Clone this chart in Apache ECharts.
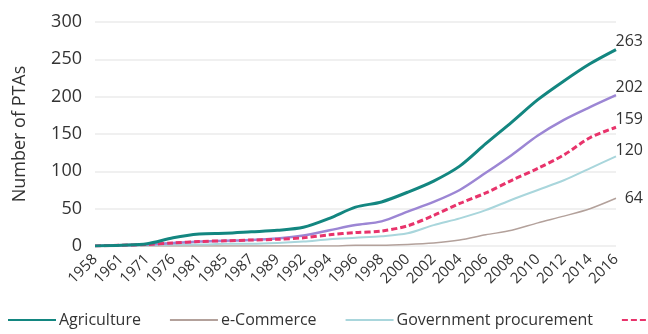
<!DOCTYPE html>
<html>
<head>
<meta charset="utf-8">
<script src="https://cdn.jsdelivr.net/npm/echarts@6/dist/echarts.min.js"></script>
<style>html,body{margin:0;padding:0;background:#fff;}#c{width:648px;height:334px;}</style>
</head>
<body>
<div id="c"></div>
<script>
const years = ['1958','1961','1971','1976','1981','1985','1987','1989','1992','1994','1996','1998','2000','2002','2004','2006','2008','2010','2012','2014','2016'];
const agriculture = [0, 1, 3, 11, 16, 17, 19, 21, 25, 37, 52, 59, 72, 87, 107, 137, 166, 196, 221, 244, 263];
const services = [0, 1, 2, 4, 6, 7, 8, 10, 14, 21, 28, 33, 46, 59, 75, 98, 122, 148, 169, 186, 202];
const investment = [0, 1, 2, 4, 6, 7, 8, 9, 11, 15, 18, 20, 27, 41, 57, 71, 88, 104, 122, 145, 159];
const govProcurement = [0, 0, 1, 2, 2, 3, 3, 4, 6, 9, 11, 13, 17, 28, 37, 48, 62, 75, 88, 104, 120];
const eCommerce = [0, 0, 0, 0, 0, 0, 0, 0, 0, 0, 1, 1, 2, 4, 8, 15, 21, 31, 40, 50, 64];
const yTicks = [0, 50, 100, 150, 200, 250, 300];

const FONT = '"Open Sans", sans-serif';
function endLbl(dy){
  return {show:true, formatter:'{c}', align:'right', distance:27, offset:[0,dy],
          color:'#333', fontSize:16, fontFamily:FONT};
}
function mk(name, data, color, width, type, dy, z){
  return {name, type:'line', data, symbol:'none', showSymbol:false, smooth:0.3, z:z,
          lineStyle:{color, width, type}, itemStyle:{color},
          endLabel:endLbl(dy), emphasis:{disabled:true}};
}
const chart = echarts.init(document.getElementById('c'));
chart.setOption({
  animation:false,
  grid:{left:95, right:32, top:22, bottom:88, containLabel:false},
  legend:{
    data:['Agriculture','e-Commerce','Government procurement','Investment'],
    left:2, top:307, width:900, itemWidth:48, itemHeight:12, itemGap:28,
    itemStyle:{opacity:0},
    textStyle:{color:'#333', fontSize:16, fontFamily:FONT, padding:[0,0,0,-2]}
  },
  xAxis:{
    type:'category', data:years, boundaryGap:false,
    axisLine:{show:false}, axisTick:{show:false},
    axisLabel:{rotate:45, interval:0, color:'#333', fontSize:15, fontFamily:FONT, margin:11}
  },
  yAxis:{
    type:'value', min:0, max:300, interval:50,
    name:'Number of PTAs', nameLocation:'middle', nameGap:66, nameRotate:90,
    nameTextStyle:{color:'#333', fontSize:18, fontFamily:FONT},
    axisLabel:{color:'#333', fontSize:18, fontFamily:FONT, margin:13,
      formatter:v => yTicks.includes(v) ? String(v) : ''},
    axisLine:{show:false}, axisTick:{show:false},
    splitLine:{lineStyle:{color:'#ebebeb', width:1.5}}
  },
  series:[
    mk('e-Commerce', eCommerce, '#b3a19b', 1.5, 'solid', 0, 2),
    mk('Government procurement', govProcurement, '#a9d6dc', 2, 'solid', -6, 3),
    mk('Investment', investment, '#e8336b', 3, [6,3], -8, 5),
    mk('Services', services, '#9c86d4', 2.5, 'solid', -8, 4),
    mk('Agriculture', agriculture, '#138680', 3, 'solid', -8, 6)
  ]
});
</script>
</body>
</html>
